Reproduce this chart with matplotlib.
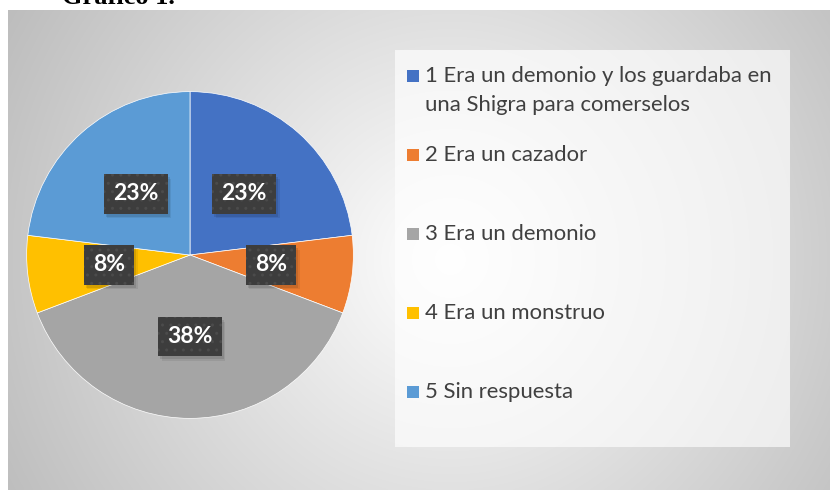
import matplotlib
matplotlib.use('Agg')
import matplotlib.pyplot as plt
import numpy as np
from matplotlib.patches import Rectangle
from matplotlib.transforms import IdentityTransform

# ---- data ----
categories = ['1 Era un demonio y los guardaba en\nuna Shigra para comerselos',
              '2 Era un cazador',
              '3 Era un demonio',
              '4 Era un monstruo',
              '5 Sin respuesta']
values = [3, 1, 5, 1, 3]
colors = ['#4472C4', '#ED7D31', '#A5A5A5', '#FFC000', '#5B9BD5']
title = 'Gráfico 1.'

# ---- layout ----
W, H = 830, 490
fig = plt.figure(figsize=(W / 100, H / 100), dpi=100, facecolor='white')


def fx(x):
    return x / W


def fy(y):
    return 1 - y / H


# background gradient (chart area)
bg = fig.add_axes([fx(8), 0, (W - 8) / W, (H - 10) / H], zorder=0)
xs = np.linspace(8, 830, 411)
ys = np.linspace(10, 490, 241)
X, Y = np.meshgrid(xs, ys)
d = np.hypot(X - 450, Y - 260)
v = np.clip(255 - 0.13 * d, 0, 255) / 255
bg.imshow(np.dstack([v, v, v]), aspect='auto', extent=[0, 1, 0, 1],
          origin='upper', interpolation='bilinear')
bg.set_axis_off()

# overlay axes in pixel coordinates for legend
ov = fig.add_axes([0, 0, 1, 1], zorder=2)
ov.set_xlim(0, W)
ov.set_ylim(H, 0)
ov.set_axis_off()
ov.add_patch(Rectangle((395, 50), 790 - 395, 447 - 50, facecolor='white',
                       alpha=0.65, edgecolor='none'))

entry_y = [76, 155, 234, 313, 392]
line_gap = 29
for lab, col, y0 in zip(categories, colors, entry_y):
    ov.add_patch(Rectangle((407, y0 - 6), 12, 12, facecolor=col, edgecolor='none'))
    for k, line in enumerate(lab.split('\n')):
        ov.text(425, y0 + k * line_gap, line, fontfamily='Lato', fontsize=15.9,
                color='#404040', va='center', ha='left')

# pie
ax = fig.add_axes([fx(25), fy(420), 330 / W, 330 / H], zorder=3)
wedges, texts, autotexts = ax.pie(values, colors=colors, startangle=90,
                                  counterclock=False, autopct='%.0f%%',
                                  pctdistance=0.5,
                                  wedgeprops=dict(edgecolor='white', linewidth=0.5))
ax.set_xlim(-1.01, 1.01)
ax.set_ylim(-1.01, 1.01)
ax.set_axis_off()

for t in autotexts:
    t.set_fontfamily('Lato')
    t.set_fontweight('bold')
    t.set_fontsize(16.5)
    t.set_color('white')
    t.set_zorder(5)
    t.set_bbox(dict(boxstyle='square,pad=0.4', facecolor='#3d3d3d',
                    edgecolor='#4b4b4b', linewidth=0, hatch='..'))

# soft drop shadows behind the label boxes
fig.canvas.draw()
for t in autotexts:
    bb = t.get_bbox_patch().get_window_extent()
    for off, a in ((2, 0.10), (3.5, 0.07)):
        ax.add_patch(Rectangle((bb.x0 + off, bb.y0 - off - 1), bb.width, bb.height,
                               transform=IdentityTransform(), facecolor='black',
                               alpha=a, edgecolor='none', zorder=4, clip_on=False))

# title (mostly cut off at the top)
fig.text(fx(62), fy(4.5), title, fontfamily='Liberation Serif', fontweight='bold',
         fontsize=19, va='baseline', ha='left', color='black')

fig.savefig('out.png', dpi=100, facecolor='white')
